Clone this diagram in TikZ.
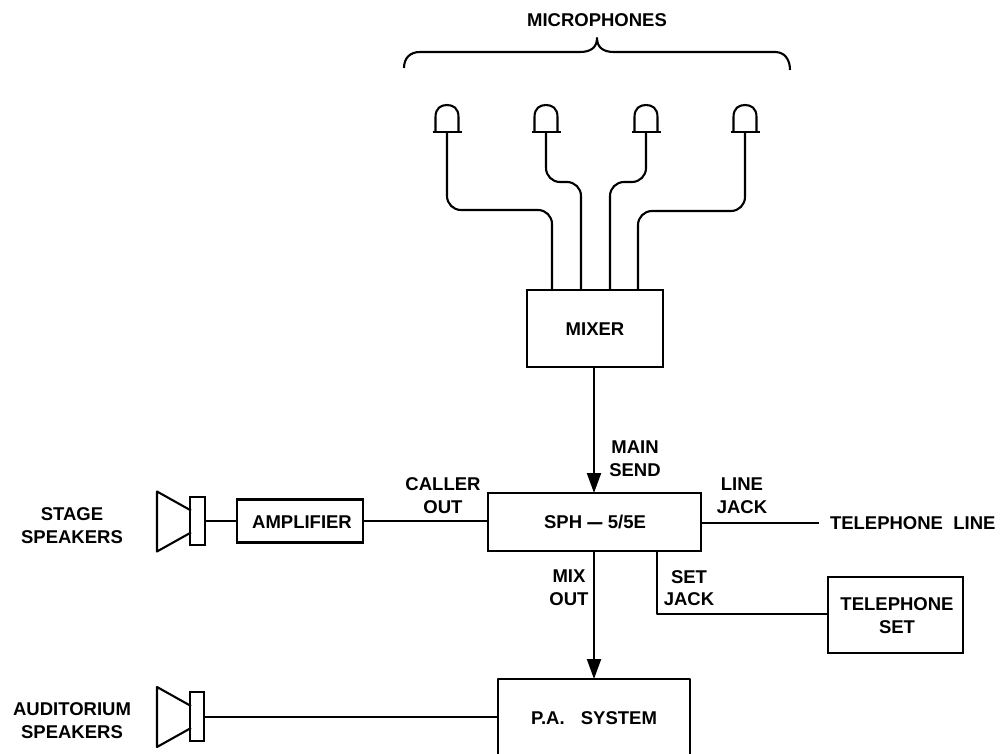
\documentclass[tikz,border=0pt]{standalone}
\usepackage{fontspec}
\setmainfont{Liberation Sans}[BoldFont={Liberation Sans Bold},WordSpace=2]
\usetikzlibrary{arrows.meta}
\tikzset{
  ink/.style={draw=black,line width=2.1pt},
  box/.style={ink,rectangle,outer sep=0pt,inner sep=0pt,fill=white},
  wire/.style={ink,line join=round},
  feed/.style={ink,-{Triangle[length=20pt,width=14pt]}},
  lab/.style={inner sep=0pt,outer sep=0pt,align=center,font=\fontsize{18.5}{22.5}\selectfont\bfseries},
  mic/.pic={
    \draw[wire] (-11.5,-1) -- (-11.5,-15) .. controls (-11.5,-24) and (-6,-27) .. (0,-27) .. controls (6,-27) and (11.5,-24) .. (11.5,-15) -- (11.5,-1);
    \draw[ink,line width=2.8pt] (-14.5,0) -- (14.5,0);
  },
  cone/.pic={
    \draw[wire] (34,-11) -- (0,-30) -- (0,30) -- (34,11);
  }
}
\begin{document}
\begin{tikzpicture}[x=1pt,y=-1pt]
\useasboundingbox[fill=white] (0,0) rectangle (1002,754);

% microphones
\coordinate (m1) at (447,132);
\coordinate (m2) at (546,132);
\coordinate (m3) at (646,132);
\coordinate (m4) at (745,132);
\foreach \m in {m1,m2,m3,m4} \pic at (\m) {mic};

\node[lab] (title) at (597,20) {MICROPHONES};
\draw[wire] (404,68) .. controls (404,58) and (410,52) .. (420,52) -- (580,52)
  .. controls (590,52) and (597,48) .. (597,38)
  .. controls (597,48) and (604,52) .. (614,52) -- (775,52)
  .. controls (785,52) and (790,60) .. (790,70);

% boxes
\node[box,minimum width=136pt,minimum height=77pt] (mixer) at (595,328.5) {};
\node[lab] (mixerl) at (595,329) {MIXER};
\node[box,minimum width=213pt,minimum height=58pt] (sph) at (594.5,522) {};
\node[lab] (sphl) at (595,522) {SPH\kern3pt\scalebox{3.2}[1]{-}\kern3pt5/5E};
\node[box,minimum width=126pt,minimum height=43pt] (amp) at (300,521) {};
\node[lab] (ampl) at (302,522) {AMPLIFIER};
\node[box,minimum width=135pt,minimum height=76pt] (tel) at (895.5,615) {};
\node[lab] (tell) at (897,615.5) {TELEPHONE\\SET};

% P.A. box runs off the lower edge
\coordinate (pal) at (498,754);
\coordinate (par) at (690,754);
\coordinate (patl) at (498,679);
\coordinate (patr) at (690,679);
\draw[wire] (pal) -- (patl) -- (patr) -- (par);
\coordinate (paw) at (498,717);
\coordinate (pan) at (594,679);
\node[lab] (pal2) at (594,718) {P.A.\kern6pt\ SYSTEM};

% speakers
\node[box,minimum width=15pt,minimum height=48pt] (sp1) at (197.5,521) {};
\pic at (157,521.5) {cone};
\node[box,minimum width=14pt,minimum height=49pt] (sp2) at (197,716.5) {};
\pic at (157,717) {cone};

% microphone wires
\coordinate (k1) at (552,210);
\coordinate (k2) at (581,182);
\coordinate (k3) at (610,182);
\coordinate (k4) at (638,211);
\draw[wire,rounded corners=14pt] (m1) |- (k1) -- (k1 |- mixer.north);
\draw[wire,rounded corners=14pt] (m2) |- (k2) -- (k2 |- mixer.north);
\draw[wire,rounded corners=14pt] (m3) |- (k3) -- (k3 |- mixer.north);
\draw[wire,rounded corners=14pt] (m4) |- (k4) -- (k4 |- mixer.north);

% connectors
\draw[feed] (mixer.south -| pan) -- (sph.north -| pan);
\draw[feed] (sph.south -| pan) -- (pan);
\draw[wire] (sp1.east |- amp.west) -- (amp.west);
\draw[wire] (amp.east) -- (amp.east -| sph.west);
\draw[wire] (sp2.east |- paw) -- (paw);
\coordinate (te) at (819,523);
\draw[wire] (te -| sph.east) -- (te);
\coordinate (sj) at (657,614);
\draw[wire] (sj |- sph.south) -- (sj) -- (sj -| tel.west);

% labels
\node[lab] (mains) at (635,458.5) {MAIN\\SEND};
\node[lab] (linej) at (742,495.5) {LINE\\JACK};
\node[lab] (setj) at (689,588) {SET\\JACK};
\node[lab] (mixo) at (569,587.5) {MIX\\OUT};
\node[lab] (callo) at (443,495.5) {CALLER\\OUT};
\node[lab] (stage) at (72,525.5) {STAGE\\SPEAKERS};
\node[lab] (aud) at (72,720.5) {AUDITORIUM\\SPEAKERS};
\node[lab,anchor=west] (tline) at (830,523) {TELEPHONE LINE};
\end{tikzpicture}
\end{document}
